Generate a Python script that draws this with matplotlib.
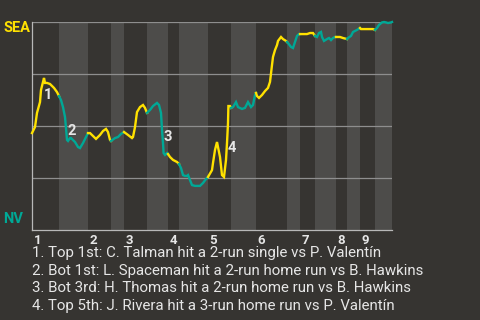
import numpy as np
import matplotlib
matplotlib.use("Agg")
import matplotlib.pyplot as plt

# half-inning boundaries (game progress units, 0..90)
half_bounds = [0, 6.75, 14, 19.75, 23, 28.75, 34, 36.75, 44, 49.75, 56,
               63.75, 67, 70.75, 76, 78.75, 82, 85.75, 90]
innings = ["1", "2", "3", "4", "5", "6", "7", "8", "9"]

# SEA win probability (%)
wp_x = [0, 0.75, 1.25, 2, 2.25, 3, 3.25, 3.75, 4.5, 5.5, 6.25, 6.75,
        7.25, 7.75, 8.25, 8.5, 8.75, 9, 9.5, 9.75, 10.75, 11.5, 12, 12.75, 13.5, 14,
        14.5, 15.25, 16, 17, 17.75, 18.5, 19, 19.5, 19.75,
        20.75, 21.5, 22.25, 23,
        24, 25, 25.25, 25.75, 26.25, 27, 27.75, 28.25, 28.75,
        29.5, 30.25, 31.25, 31.75, 32.25, 32.5, 32.75, 32.9, 33.25, 33.75, 34,
        34.5, 35.25, 36.25, 36.75,
        37.25, 37.75, 38.25, 38.75, 39, 39.5, 40, 40.75, 42, 42.75, 43.5, 44,
        45, 45.25, 45.75, 46.25, 47, 47.5, 48, 48.5, 48.75, 49, 49.1, 49.5, 49.75,
        50.25, 51, 51.5, 52.5, 53.25, 54, 54.75, 55.25, 55.75, 56,
        56.25, 56.75, 57.5, 58.25, 59, 59.5, 60, 60.25, 60.75, 61.25, 61.5, 62.25,
        62.75, 63.5, 63.75,
        64, 64.75, 65.25, 65.75, 66.25, 66.75, 67,
        67.75, 68.75, 69.5, 70.25, 70.75,
        71.25, 71.75, 72.25, 72.5, 73, 73.75, 74.25, 74.75, 75.25, 75.75, 76,
        77, 77.75, 78.75,
        79, 79.75, 80.25, 81.25, 82,
        82.25, 82.75, 83.75, 84.5, 85.25, 85.75,
        86.25, 86.75, 87.5, 88, 88.5, 89, 89.75, 90]
wp_y = [46.6, 49.5, 56.3, 61.5, 67.3, 73.1, 70.7, 70.7, 70.2, 68.3, 66.3, 64.4,
        62.5, 59.1, 54.3, 49.0, 43.3, 42.8, 44.2, 44.2, 42.3, 39.9, 39.4, 41.8, 44.7, 46.6,
        46.6, 45.2, 43.8, 45.7, 47.6, 48.6, 47.1, 43.3, 42.8,
        44.2, 44.7, 46.2, 47.1,
        45.7, 44.2, 44.7, 49.5, 56.7, 59.1, 60.1, 58.7, 56.3,
        57.7, 59.6, 61.1, 60.1, 56.3, 48.1, 41.8, 37.0, 36.1, 37.0, 36.5,
        35.1, 33.7, 32.7, 31.7,
        29.8, 26.4, 26.0, 26.0, 26.4, 24.0, 21.6, 21.2, 21.2, 22.6, 24.5, 25.5,
        28.8, 32.2, 38.5, 42.3, 35.1, 26.4, 25.5, 33.7, 41.8, 51.4, 59.6, 59.6, 58.7,
        59.1, 61.5, 59.1, 58.2, 58.7, 61.5, 59.1, 60.1, 64.9, 65.9,
        64.4, 63.5, 64.9, 66.8, 68.3, 71.2, 79.3, 83.2, 86.5, 88.9, 90.9, 92.8,
        91.8, 90.9, 90.4,
        89.9, 88.0, 87.5, 90.4, 93.3, 94.2, 94.2,
        94.2, 94.2, 94.7, 94.7, 93.3,
        92.8, 94.7, 95.2, 92.8, 90.9, 91.8, 92.3, 91.3, 92.3, 92.8, 92.8,
        92.8, 92.3, 91.8,
        92.3, 93.3, 95.2, 96.2, 97.1,
        96.6, 96.6, 96.6, 96.6, 96.6, 96.2,
        97.1, 98.6, 99.8, 100, 99.8, 99.5, 99.8, 100]

# key plays
event_num = ["1", "2", "3", "4"]
event_x = [4, 10, 34, 50]
event_y = [64.9, 47.6, 44.7, 39.4]
notes = [
    "1. Top 1st: C. Talman hit a 2-run single vs P. Valentín",
    "2. Bot 1st: L. Spaceman hit a 2-run home run vs B. Hawkins",
    "3. Bot 3rd: H. Thomas hit a 2-run home run vs B. Hawkins",
    "4. Top 5th: J. Rivera hit a 3-run home run vs P. Valentín",
]

bg = "#363431"
band = "#4d4c4a"
sea_col = "#ffe100"
nv_col = "#00a896"
txt = "#e6e6e6"

plt.rcParams["font.family"] = ["Roboto", "DejaVu Sans"]

fig = plt.figure(figsize=(4.8, 3.2), dpi=100, facecolor=bg)
ax = fig.add_axes([32 / 480, 90 / 320, 360 / 480, 208 / 320])
ax.set_facecolor(bg)
ax.set_xlim(0, 90)
ax.set_ylim(0, 100)

# bottom halves get the lighter band
for i in range(1, len(half_bounds) - 1, 2):
    ax.axvspan(half_bounds[i], half_bounds[i + 1], color=band, lw=0, zorder=0)

for g in [25, 50, 75, 100]:
    ax.axhline(g, color="#8e8e8e", lw=0.9, zorder=1)

x = np.array(wp_x)
y = np.array(wp_y)
for i in range(len(half_bounds) - 1):
    lo, hi = half_bounds[i], half_bounds[i + 1]
    if i == 0:
        idx = np.where(x <= hi)[0]
    else:
        idx = np.where((x > lo) & (x <= hi))[0]
        idx = np.concatenate([[idx[0] - 1], idx])
    col = sea_col if i % 2 == 0 else nv_col
    ax.plot(x[idx], y[idx], color=col, lw=1.7, zorder=3, clip_on=False,
            solid_joinstyle="miter")

for n, ex, ey in zip(event_num, event_x, event_y):
    ax.text(ex, ey, n, color=txt, fontsize=10.5, fontweight="bold",
            ha="center", va="center", zorder=4)

for s in ["top", "right"]:
    ax.spines[s].set_visible(False)
for s in ["left", "bottom"]:
    ax.spines[s].set_color("#b8b8b8")
    ax.spines[s].set_linewidth(0.9)
ax.set_xticks([])
ax.set_yticks([])

starts = half_bounds[0::2][:9]
for lab, sx in zip(innings, starts):
    ax.annotate(lab, (sx, 0), xytext=(1, -7.5), textcoords="offset points",
                color=txt, fontsize=9.5, fontweight="bold", ha="left", va="center")

fig.text(3 / 480, 1 - 28 / 320, "SEA", color=sea_col, fontsize=10.5,
         fontweight="bold", ha="left", va="center")
fig.text(3 / 480, 1 - 219 / 320, "NV", color=nv_col, fontsize=10.5,
         fontweight="bold", ha="left", va="center")

for k, line in enumerate(notes):
    fig.text(32 / 480, 1 - (252.7 + 17.8 * k) / 320, line, color=txt,
             fontsize=10.8, ha="left", va="center")

fig.savefig("out.png", dpi=100, facecolor=bg)
